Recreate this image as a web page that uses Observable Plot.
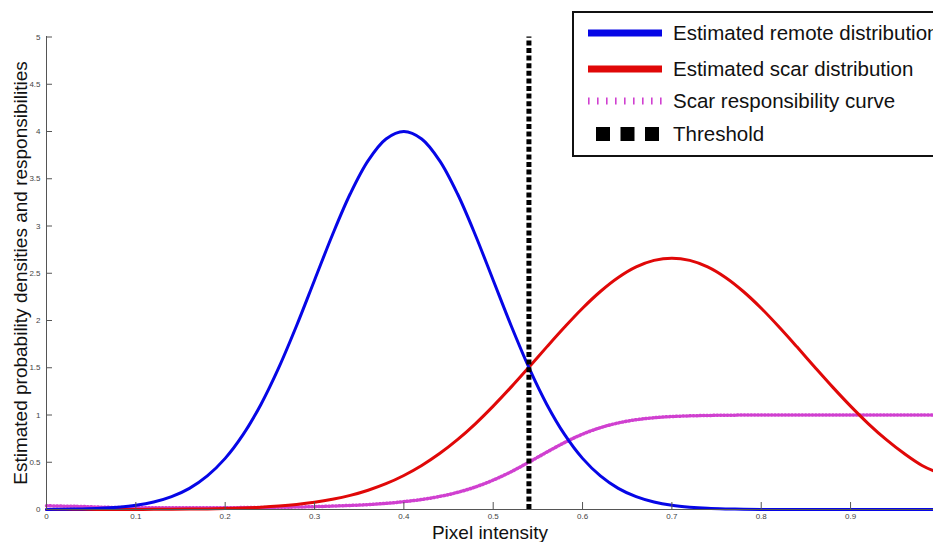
<!DOCTYPE html>
<html>
<head>
<meta charset="utf-8">
<script src="https://cdn.jsdelivr.net/npm/d3@7"></script>
<script src="https://cdn.jsdelivr.net/npm/@observablehq/plot@0.6"></script>
<style>
  html, body { margin: 0; padding: 0; background: #fff; overflow: hidden; }
  #wrap { position: relative; width: 933px; height: 542px; font-family: "Liberation Sans", Arial, sans-serif; }
  #legend { position: absolute; left: 572px; top: 11px; width: 380px; height: 146px; border: 2px solid #111; background: #fff; box-sizing: border-box; }
  .row { position: absolute; left: 0; height: 30px; width: 380px; }
  .row span { position: absolute; left: 99px; top: 50%; transform: translateY(-50%); font-size: 20.5px; color: #111; white-space: nowrap; }
  .row svg { position: absolute; left: 12px; top: 0; }
</style>
</head>
<body>
<div id="wrap"></div>
<script>
const xs = [0,0.02,0.04,0.06,0.08,0.10,0.12,0.14,0.16,0.18,0.20,0.22,0.24,0.26,0.28,0.30,0.32,0.34,0.36,0.38,0.40,0.42,0.44,0.46,0.48,0.50,0.52,0.54,0.56,0.58,0.60,0.62,0.64,0.66,0.68,0.70,0.72,0.74,0.76,0.78,0.80,0.82,0.84,0.86,0.88,0.90,0.92,0.94,0.96,0.98,1.00];
const remote = [0.001,0.003,0.006,0.012,0.024,0.044,0.079,0.136,0.224,0.356,0.541,0.792,1.112,1.501,1.947,2.426,2.905,3.341,3.692,3.921,4.0,3.921,3.692,3.341,2.905,2.426,1.947,1.501,1.112,0.792,0.541,0.356,0.224,0.136,0.079,0.044,0.024,0.012,0.006,0.003,0.001,0.0005,0.0002,0.0001,0,0,0,0,0,0,0];
const scar = [0.0001,0.0001,0.0002,0.0003,0.0005,0.0009,0.0015,0.0025,0.0041,0.0065,0.0103,0.0159,0.0242,0.0361,0.0528,0.076,0.1075,0.149,0.204,0.273,0.360,0.466,0.592,0.739,0.907,1.094,1.295,1.506,1.721,1.931,2.130,2.307,2.455,2.567,2.636,2.66,2.636,2.567,2.455,2.307,2.130,1.931,1.721,1.506,1.295,1.094,0.907,0.739,0.592,0.466,0.380];
const resp = [0.04,0.035,0.032,0.025,0.021,0.020,0.019,0.018,0.018,0.018,0.019,0.020,0.021,0.023,0.026,0.030,0.036,0.043,0.052,0.065,0.083,0.106,0.138,0.181,0.238,0.311,0.399,0.501,0.607,0.709,0.797,0.866,0.916,0.950,0.971,0.984,0.991,0.995,0.998,0.999,1,1,1,1,1,1,1,1,1,1,1];
const threshold = 0.54;
const xTicks = [0,0.1,0.2,0.3,0.4,0.5,0.6,0.7,0.8,0.9];
const yTicks = [0,0.5,1,1.5,2,2.5,3,3.5,4,4.5,5];
const xLabel = "Pixel intensity";
const yLabel = "Estimated probability densities and responsibilities";
const legendLabels = ["Estimated remote distribution","Estimated scar distribution","Scar responsibility curve","Threshold"];

const rows = xs.map((x, i) => ({x, remote: remote[i], scar: scar[i], resp: resp[i]}));
const axisColor = "#555";
const font = "Liberation Sans, Arial, sans-serif";

const chart = Plot.plot({
  width: 933, height: 542,
  marginLeft: 46, marginRight: 0, marginTop: 36, marginBottom: 33,
  style: {fontFamily: font, background: "white", overflow: "hidden"},
  x: {domain: [0, 1], range: [46, 939.4], axis: null},
  y: {domain: [0, 5], range: [509, 36.5], axis: null},
  marks: [
    Plot.line(rows, {x: "x", y: "resp", stroke: "#d040d0", strokeWidth: 3.5, strokeDasharray: "1,2.4", curve: "catmull-rom"}),
    Plot.line(rows, {x: "x", y: "scar", stroke: "#e00808", strokeWidth: 3, curve: "catmull-rom"}),
    Plot.line(rows, {x: "x", y: "remote", stroke: "#0606e6", strokeWidth: 3, curve: "catmull-rom"}),
    Plot.ruleX([threshold], {y1: 0, y2: 5, stroke: "#000", strokeWidth: 5, strokeDasharray: "5,2.6"}),
    Plot.ruleX([0], {stroke: axisColor, strokeWidth: 1}),
    Plot.ruleY([0], {stroke: axisColor, strokeWidth: 1}),
    Plot.tickX(xTicks.slice(1), {x: d => d, stroke: axisColor, insetTop: 466}),
    Plot.tickY(yTicks.slice(1), {y: d => d, stroke: axisColor, insetRight: 881}),
    Plot.axisX(xTicks, {tickSize: 0, tickPadding: 4, fontSize: 8, color: "#444", tickFormat: d => String(d), label: null}),
    Plot.axisY(yTicks, {tickSize: 0, tickPadding: 6, fontSize: 8, color: "#444", tickFormat: d => String(d), label: null}),
    Plot.text([xLabel], {frameAnchor: "bottom", dy: 23, lineAnchor: "middle", textAnchor: "middle", fontSize: 19, fill: "#111", fontFamily: font}),
    Plot.text([yLabel], {frameAnchor: "left", dx: -26, rotate: -90, lineAnchor: "middle", textAnchor: "middle", fontSize: 19, fill: "#111", fontFamily: font})
  ]
});

const wrap = document.getElementById("wrap");
wrap.appendChild(chart);

const legend = document.createElement("div");
legend.id = "legend";
const swatches = [
  `<svg width="80" height="30"><line x1="2" y1="15" x2="76" y2="15" stroke="#0606e6" stroke-width="7"/></svg>`,
  `<svg width="80" height="30"><line x1="2" y1="15" x2="76" y2="15" stroke="#e00808" stroke-width="7"/></svg>`,
  `<svg width="80" height="30"><line x1="2" y1="15" x2="76" y2="15" stroke="#d040d0" stroke-width="7" stroke-dasharray="1.6,7.4"/></svg>`,
  `<svg width="80" height="30"><line x1="10" y1="15" x2="76" y2="15" stroke="#000" stroke-width="14" stroke-dasharray="14,10.5"/></svg>`
];
const tops = [5, 41, 73, 106];
legendLabels.forEach((lab, i) => {
  const r = document.createElement("div");
  r.className = "row";
  r.style.top = tops[i] + "px";
  r.innerHTML = swatches[i] + `<span>${lab}</span>`;
  legend.appendChild(r);
});
wrap.appendChild(legend);
</script>
</body>
</html>
